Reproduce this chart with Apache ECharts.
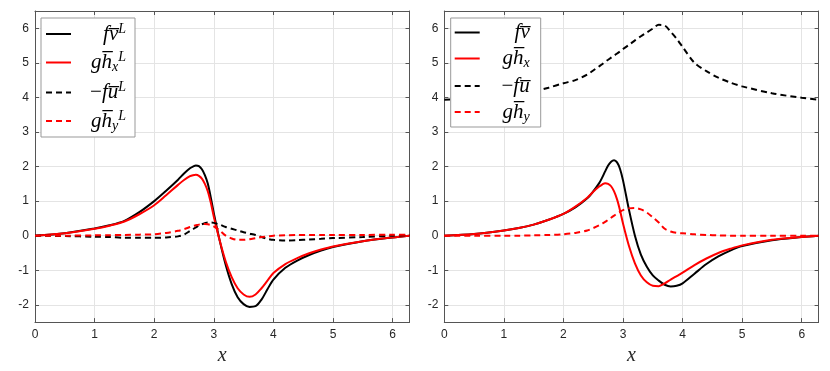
<!DOCTYPE html>
<html>
<head>
<meta charset="utf-8">
<script src="https://cdn.jsdelivr.net/npm/echarts@6/dist/echarts.min.js"></script>
<style>
  html, body { margin: 0; padding: 0; background: #fff; }
  #main { width: 830px; height: 371px; }
</style>
</head>
<body>
<div id="main"></div>
<script>
// x 采样点 (0 .. 2π)
const xs = [0, 0.5, 1, 1.25, 1.5, 1.75, 2, 2.2, 2.4, 2.5, 2.6, 2.65, 2.7, 2.75, 2.8, 2.85, 2.9, 2.95, 3.0, 3.1, 3.2, 3.3, 3.4, 3.5, 3.6, 3.7, 3.8, 3.9, 4.0, 4.2, 4.4, 4.6, 4.8, 5.0, 5.5, 6.0, 6.2832]
const xTicks = [0, 1, 2, 3, 4, 5, 6]
const yTicks = [-2, -1, 0, 1, 2, 3, 4, 5, 6]

// 左图 (Lagrangian mean)
const leftFv = [0, 0.07, 0.21, 0.3, 0.43, 0.68, 1.0, 1.3, 1.62, 1.8, 1.95, 2.0, 2.03, 2.01, 1.92, 1.75, 1.5, 1.1, 0.65, -0.15, -0.85, -1.4, -1.78, -1.98, -2.06, -2.04, -1.85, -1.55, -1.27, -0.93, -0.72, -0.56, -0.43, -0.33, -0.16, -0.05, 0]
const leftGhx = [0, 0.07, 0.2, 0.29, 0.41, 0.62, 0.88, 1.17, 1.47, 1.61, 1.72, 1.75, 1.76, 1.73, 1.65, 1.5, 1.28, 0.95, 0.55, -0.15, -0.75, -1.2, -1.52, -1.7, -1.77, -1.7, -1.52, -1.3, -1.08, -0.82, -0.65, -0.51, -0.4, -0.31, -0.16, -0.05, 0]
const leftFu = [0, -0.01, -0.03, -0.04, -0.06, -0.06, -0.06, -0.05, -0.02, 0.03, 0.14, 0.19, 0.24, 0.29, 0.33, 0.36, 0.38, 0.38, 0.37, 0.32, 0.25, 0.2, 0.15, 0.1, 0.06, 0.02, -0.04, -0.09, -0.12, -0.14, -0.13, -0.11, -0.09, -0.07, -0.04, 0.0, 0.02]
const leftGhy = [0, 0.0, 0.01, 0.015, 0.02, 0.03, 0.04, 0.08, 0.14, 0.19, 0.25, 0.28, 0.3, 0.32, 0.33, 0.34, 0.33, 0.31, 0.27, 0.15, 0.0, -0.08, -0.12, -0.12, -0.1, -0.07, -0.04, -0.02, 0.0, 0.01, 0.02, 0.02, 0.02, 0.02, 0.02, 0.03, 0.03]

// 右图 (Eulerian mean)
const rightFv = [0, 0.05, 0.15, 0.22, 0.32, 0.46, 0.63, 0.82, 1.08, 1.28, 1.52, 1.68, 1.86, 2.03, 2.14, 2.18, 2.12, 1.93, 1.6, 0.75, 0.0, -0.55, -0.9, -1.15, -1.3, -1.42, -1.47, -1.45, -1.38, -1.1, -0.82, -0.6, -0.43, -0.3, -0.13, -0.04, 0]
const rightGhx = [0, 0.05, 0.15, 0.22, 0.32, 0.46, 0.63, 0.84, 1.1, 1.27, 1.42, 1.48, 1.52, 1.5, 1.43, 1.28, 1.05, 0.73, 0.35, -0.3, -0.8, -1.15, -1.35, -1.45, -1.46, -1.38, -1.27, -1.17, -1.07, -0.85, -0.66, -0.5, -0.38, -0.28, -0.12, -0.04, 0]
const rightFu = [3.93, 3.97, 4.04, 4.1, 4.17, 4.28, 4.41, 4.5, 4.66, 4.78, 4.9, 4.96, 5.03, 5.09, 5.15, 5.21, 5.27, 5.33, 5.4, 5.52, 5.65, 5.77, 5.88, 5.99, 6.1, 6.08, 5.9, 5.7, 5.46, 5.0, 4.76, 4.57, 4.43, 4.32, 4.12, 3.99, 3.93]
const rightGhy = [0, 0, 0, 0, 0.01, 0.02, 0.04, 0.08, 0.15, 0.22, 0.3, 0.35, 0.4, 0.46, 0.52, 0.58, 0.64, 0.69, 0.74, 0.79, 0.8, 0.76, 0.67, 0.53, 0.38, 0.2, 0.12, 0.08, 0.07, 0.04, 0.02, 0.01, 0, 0, 0, 0, 0]

const pair = ys => xs.map((x, i) => [x, ys[i]])

const axisColor = '#555'
const gridColor = '#e4e4e4'
const tickFont = { color: '#262626', fontSize: 12, fontFamily: 'Liberation Sans' }

function xAxisOf (gi, bottom) {
  return {
    type: 'value',
    gridIndex: gi,
    position: bottom ? 'bottom' : 'top',
    min: 0,
    max: 6.2832,
    interval: 1,
    name: bottom ? 'x' : '',
    nameLocation: 'middle',
    nameGap: 20,
    nameTextStyle: { fontFamily: 'Liberation Serif', fontStyle: 'italic', fontSize: 20, color: '#262626' },
    axisLine: { show: true, onZero: false, lineStyle: { color: axisColor, width: 1 } },
    axisTick: { show: true, inside: true, length: 4, lineStyle: { color: axisColor } },
    axisLabel: {
      show: bottom,
      ...tickFont,
      margin: 7,
      formatter: v => xTicks.indexOf(v) >= 0 ? String(v) : ''
    },
    splitLine: { show: bottom, lineStyle: { color: gridColor } }
  }
}

function yAxisOf (gi, left) {
  return {
    type: 'value',
    gridIndex: gi,
    position: left ? 'left' : 'right',
    min: -2.5,
    max: 6.5,
    splitNumber: 9,
    axisLine: { show: true, onZero: false, lineStyle: { color: axisColor, width: 1 } },
    axisTick: { show: true, inside: true, length: 4, lineStyle: { color: axisColor } },
    axisLabel: {
      show: left,
      ...tickFont,
      margin: 6,
      formatter: v => yTicks.indexOf(v) >= 0 ? String(v) : ''
    },
    splitLine: { show: left, lineStyle: { color: gridColor } }
  }
}

// 图例文字 (LaTeX 样式近似)
const richBase = { fontFamily: 'Liberation Serif', color: '#000', align: 'right' }
const rich = {
  m: { ...richBase, fontStyle: 'italic', fontSize: 21, lineHeight: 24, verticalAlign: 'middle' },
  n: { ...richBase, fontSize: 21, lineHeight: 24, verticalAlign: 'middle' },
  sup: { ...richBase, fontStyle: 'italic', fontSize: 14, lineHeight: 13, verticalAlign: 'top' },
  sub: { ...richBase, fontStyle: 'italic', fontSize: 14, lineHeight: 13, verticalAlign: 'bottom' }
}
const labels = {
  fvL: '{m|fv\u0305}{sup|L}',
  ghxL: '{m|gh\u0305}{sub|x}{sup|L}',
  fuL: '{n|\u2212}{m|fu\u0305}{sup|L}',
  ghyL: '{m|gh\u0305}{sub|y}{sup|L}',
  fv: '{m|fv\u0305}',
  ghx: '{m|gh\u0305}{sub|x}',
  fu: '{n|\u2212}{m|fu\u0305}',
  ghy: '{m|gh\u0305}{sub|y}'
}

function line (name, gi, ys, color, dashed) {
  return {
    name: name,
    type: 'line',
    xAxisIndex: gi * 2,
    yAxisIndex: gi * 2,
    data: pair(ys),
    symbol: 'none',
    smooth: 0.3,
    lineStyle: { color: color, width: 2, type: dashed ? [6, 4] : 'solid' },
    itemStyle: { color: color }
  }
}

function legendOf (left, names, width, padding, gap) {
  return {
    left: left,
    top: 18,
    orient: 'vertical',
    data: names,
    itemWidth: 25,
    itemHeight: 14,
    itemGap: gap,
    padding: padding,
    selectedMode: false,
    backgroundColor: '#fff',
    borderColor: '#999',
    borderWidth: 1,
    borderRadius: 0,
    itemStyle: { opacity: 0 },
    formatter: n => labels[n],
    textStyle: { width: width, rich: rich }
  }
}

const chart = echarts.init(document.getElementById('main'), null, { renderer: 'canvas' })
chart.setOption({
  backgroundColor: '#fff',
  animation: false,
  grid: [
    { left: 35, top: 11, width: 374.5, height: 313 },
    { left: 444.3, top: 11, width: 374.3, height: 313 }
  ],
  xAxis: [xAxisOf(0, true), xAxisOf(0, false), xAxisOf(1, true), xAxisOf(1, false)],
  yAxis: [yAxisOf(0, true), yAxisOf(0, false), yAxisOf(1, true), yAxisOf(1, false)],
  legend: [
    legendOf(41, ['fvL', 'ghxL', 'fuL', 'ghyL'], 50, [4, 9, 4, 4], 6),
    legendOf(450.7, ['fv', 'ghx', 'fu', 'ghy'], 45, [4, 11, 3, 3], 5)
  ],
  series: [
    line('fvL', 0, leftFv, '#000', false),
    line('ghxL', 0, leftGhx, '#ff0000', false),
    line('fuL', 0, leftFu, '#000', true),
    line('ghyL', 0, leftGhy, '#ff0000', true),
    line('fv', 1, rightFv, '#000', false),
    line('ghx', 1, rightGhx, '#ff0000', false),
    line('fu', 1, rightFu, '#000', true),
    line('ghy', 1, rightGhy, '#ff0000', true)
  ]
})
</script>
</body>
</html>
